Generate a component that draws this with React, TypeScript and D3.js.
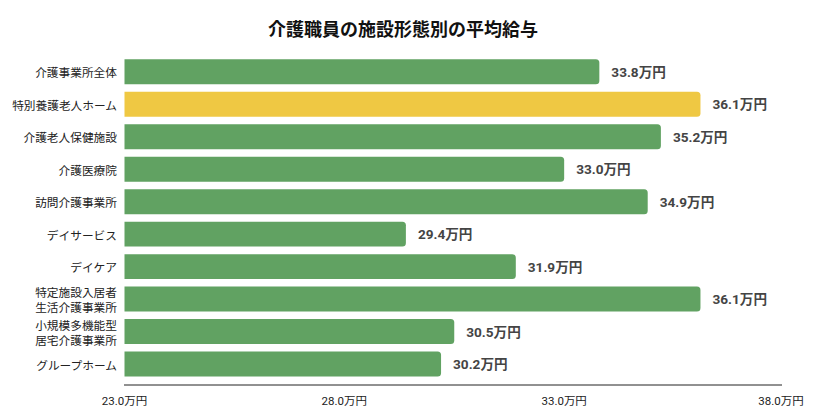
import React from 'react';
import * as d3 from 'd3';

const categories = [
  '介護事業所全体',
  '特別養護老人ホーム',
  '介護老人保健施設',
  '介護医療院',
  '訪問介護事業所',
  'デイサービス',
  'デイケア',
  '特定施設入居者\n生活介護事業所',
  '小規模多機能型\n居宅介護事業所',
  'グループホーム',
];
const salaries = [33.8, 36.1, 35.2, 33.0, 34.9, 29.4, 31.9, 36.1, 30.5, 30.2];
const highlighted = ['特別養護老人ホーム'];
const xTicks = [23, 28, 33, 38];

const width = 813;
const height = 410;
const axisY = 385;

const JP = '"Noto Sans CJK JP", "Noto Sans", sans-serif';
const NUM = 'Roboto, "Noto Sans CJK JP", sans-serif';

function barPath(x0: number, y0: number, w: number, h: number, r: number) {
  const rr = Math.min(r, w, h / 2);
  return `M${x0},${y0}H${x0 + w - rr}Q${x0 + w},${y0} ${x0 + w},${y0 + rr}V${y0 + h - rr}Q${x0 + w},${y0 + h} ${x0 + w - rr},${y0 + h}H${x0}Z`;
}

export default function App() {
  const x = d3.scaleLinear().domain([23, 38]).range([124.5, 784]);
  const y = d3.scaleBand<string>().domain(categories).range([51.8, 384]).padding(0.232);

  return (
    <svg width={width} height={height} style={{ position: 'absolute', left: 0, top: 0, background: '#fff' }}>
      <text x={403} y={28} textAnchor="middle" dominantBaseline="central"
        fontFamily={JP} fontSize={18} fontWeight={700} fill="#111">
        介護職員の施設形態別の平均給与
      </text>

      {categories.map((c, i) => {
        const y0 = y(c)!;
        const bw = y.bandwidth();
        const v = salaries[i];
        const lines = c.split('\n');
        const cy = y0 + bw / 2;
        return (
          <g key={c}>
            <path d={barPath(x(23), y0, x(v) - x(23), bw, 3.5)}
              fill={highlighted.includes(c) ? '#efc843' : '#61a262'} />
            <text x={117} textAnchor="end" fontFamily={JP} fontSize={11.7} fill="#222">
              {lines.map((l, j) => (
                <tspan key={j} x={117} y={cy + (j - (lines.length - 1) / 2) * 15} dominantBaseline="central">{l}</tspan>
              ))}
            </text>
            <text x={x(v) + 12} y={cy} dominantBaseline="central"
              fontFamily={NUM} fontSize={13.6} fontWeight={700} fill="#444">
              {v.toFixed(1)}万円
            </text>
          </g>
        );
      })}

      <line x1={124} x2={782} y1={axisY} y2={axisY} stroke="#222" strokeWidth={1} />
      {xTicks.map(t => (
        <text key={t} x={Math.min(x(t), 781)} y={401} textAnchor="middle" dominantBaseline="central"
          fontFamily={NUM} fontSize={11.5} fill="#222">
          {t.toFixed(1)}万円
        </text>
      ))}
    </svg>
  );
}
